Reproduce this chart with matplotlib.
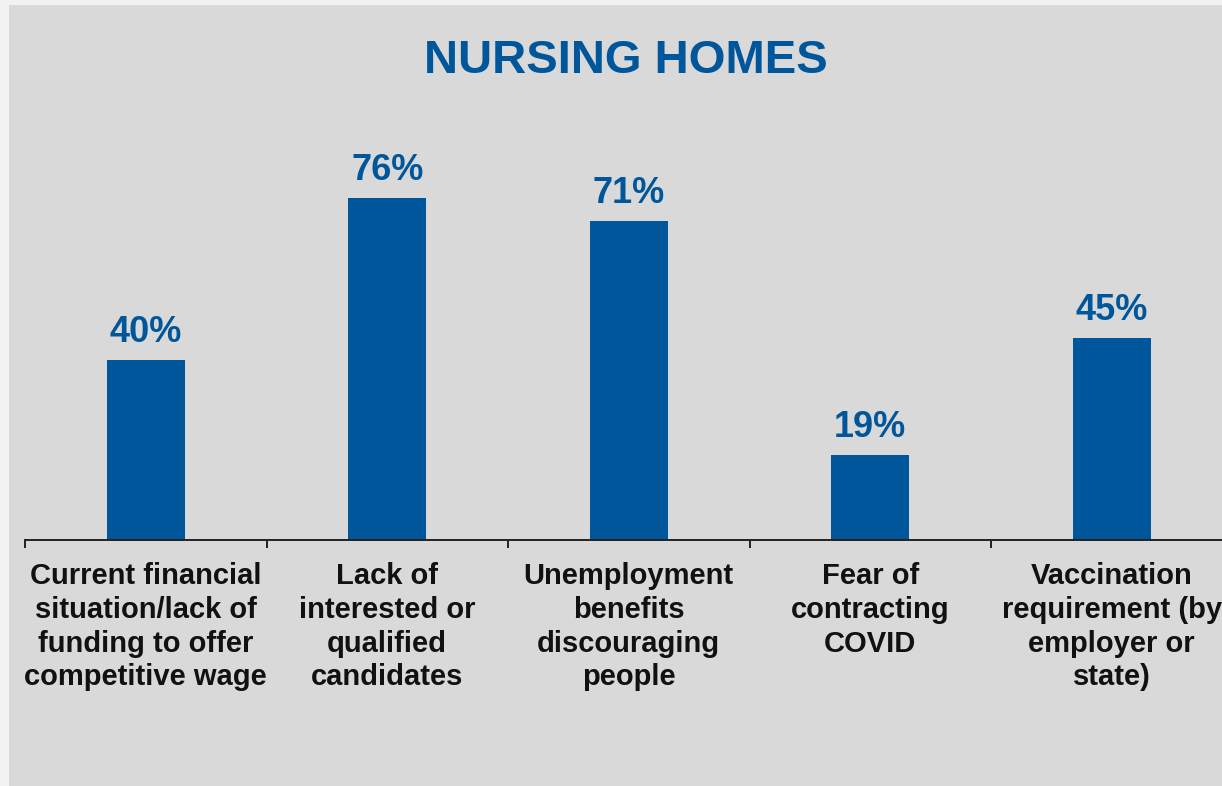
import matplotlib.pyplot as plt
from matplotlib.patches import Rectangle

plt.rcParams['font.family'] = ['Liberation Sans', 'DejaVu Sans']

categories = [
    "Current financial\nsituation/lack of\nfunding to offer\ncompetitive wage",
    "Lack of\ninterested or\nqualified\ncandidates",
    "Unemployment\nbenefits\ndiscouraging\npeople",
    "Fear of\ncontracting\nCOVID",
    "Vaccination\nrequirement (by\nemployer or\nstate)",
]
values = [40, 76, 71, 19, 45]

blue = "#00569a"
W, H = 1222, 786

fig = plt.figure(figsize=(W / 100, H / 100), dpi=100, facecolor="#f2f2f2")
# grey panel behind the chart
fig.patches.append(Rectangle((9 / W, 0), 1, 1 - 5 / H, transform=fig.transFigure,
                             facecolor="#d9d9d9", edgecolor="none", zorder=-10))

ax = fig.add_axes([25 / W, 246 / H, 1207.5 / W, 360 / H])
ax.set_facecolor("none")

x = range(len(values))
bars = ax.bar(x, values, width=0.323, color=blue, zorder=2)
for xi, v in zip(x, values):
    ax.annotate(f"{v}%", (xi, v), xytext=(0, 7), textcoords="offset points",
                ha="center", va="bottom", fontsize=26, fontweight="bold", color=blue)

ax.set_xlim(-0.5, len(values) - 0.5)
ax.set_ylim(0, 80)

for s in ["top", "right", "left"]:
    ax.spines[s].set_visible(False)
ax.spines["bottom"].set_linewidth(1.4)
ax.spines["bottom"].set_color("#222222")
ax.set_yticks([])

# tick marks at category boundaries, labels at centres
ax.set_xticks([i - 0.5 for i in range(len(values) + 1)])
ax.set_xticklabels([])
ax.tick_params(axis="x", which="major", direction="out", length=6, width=1.4, color="#222222")
ax.set_xticks(list(x), minor=True)
ax.set_xticklabels(categories, minor=True, fontsize=21, fontweight="bold",
                   color="#111111", linespacing=1.26)
ax.tick_params(axis="x", which="minor", length=0, pad=16)

fig.text(626 / W, 1 - 61 / H, "NURSING HOMES", ha="center", va="center",
         fontsize=34, fontweight="bold", color=blue)

fig.savefig("out.png", dpi=100, facecolor=fig.get_facecolor())
